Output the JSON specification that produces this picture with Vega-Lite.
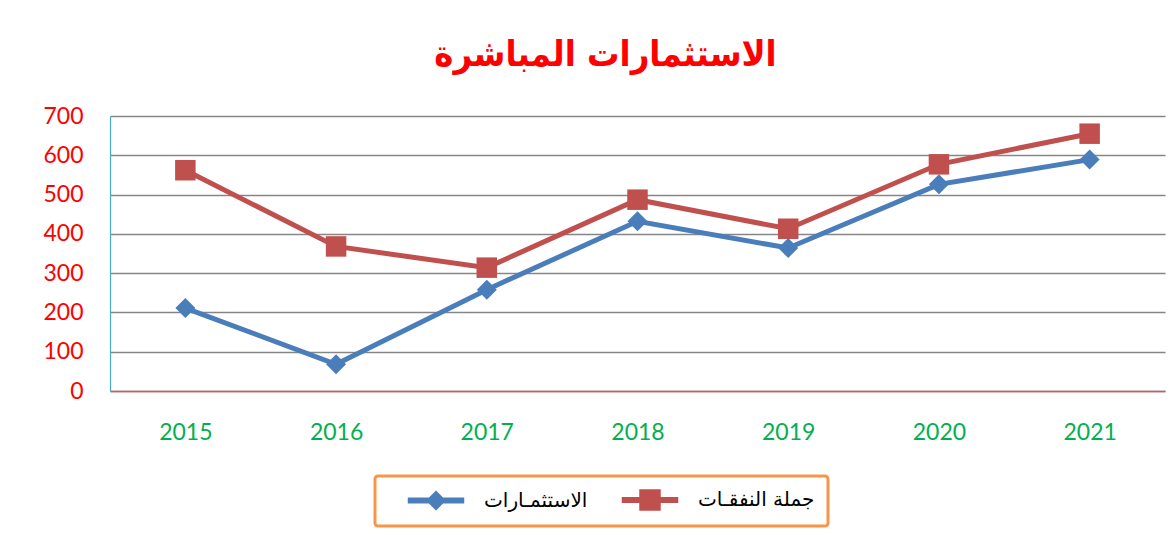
{
  "$schema": "https://vega.github.io/schema/vega-lite/v6.json",
  "width": 1055,
  "height": 275,
  "autosize": {"type": "none"},
  "padding": {"left": 110, "top": 116, "right": 10, "bottom": 149},
  "background": "white",
  "title": {
    "text": "الاستثمارات المباشرة",
    "color": "#ff0000",
    "font": "DejaVu Sans Condensed",
    "fontSize": 36,
    "fontWeight": "bold",
    "anchor": "middle",
    "dx": -32,
    "offset": 31
  },
  "config": {"view": {"stroke": null}},
  "data": {
    "values": [
      {"year": "2015", "series": "الاستثمـارات", "value": 211},
      {"year": "2016", "series": "الاستثمـارات", "value": 68},
      {"year": "2017", "series": "الاستثمـارات", "value": 258},
      {"year": "2018", "series": "الاستثمـارات", "value": 432},
      {"year": "2019", "series": "الاستثمـارات", "value": 364},
      {"year": "2020", "series": "الاستثمـارات", "value": 526},
      {"year": "2021", "series": "الاستثمـارات", "value": 589},
      {"year": "2015", "series": "جملة النفقـات", "value": 562},
      {"year": "2016", "series": "جملة النفقـات", "value": 368},
      {"year": "2017", "series": "جملة النفقـات", "value": 314},
      {"year": "2018", "series": "جملة النفقـات", "value": 487},
      {"year": "2019", "series": "جملة النفقـات", "value": 413},
      {"year": "2020", "series": "جملة النفقـات", "value": 577},
      {"year": "2021", "series": "جملة النفقـات", "value": 655}
    ]
  },
  "encoding": {
    "x": {
      "field": "year",
      "type": "ordinal",
      "scale": {"type": "point", "padding": 0.5},
      "axis": {
        "title": null,
        "labelAngle": 0,
        "ticks": false,
        "grid": false,
        "domainColor": "#d35a57",
        "domainWidth": 1.5,
        "labelColor": "#00b050",
        "labelFont": "Lato",
        "labelFontSize": 23,
        "labelPadding": 30
      }
    },
    "y": {
      "field": "value",
      "type": "quantitative",
      "scale": {"domain": [0, 700]},
      "axis": {
        "title": null,
        "values": [0, 100, 200, 300, 400, 500, 600, 700],
        "grid": true,
        "gridColor": "#868686",
        "gridWidth": 1.6,
        "ticks": false,
        "domainColor": "#4bacc6",
        "domainWidth": 1.2,
        "labelColor": "#ff0000",
        "labelFont": "Lato",
        "labelFontSize": 23,
        "labelPadding": 27
      }
    },
    "color": {
      "field": "series",
      "type": "nominal",
      "scale": {"domain": ["الاستثمـارات", "جملة النفقـات"], "range": ["#4a7ebb", "#c0504d"]},
      "legend": {
        "title": null,
        "orient": "none",
        "legendX": 265,
        "legendY": 360,
        "direction": "horizontal",
        "padding": 13,
        "strokeColor": "#f79646",
        "cornerRadius": 3,
        "fillColor": "white",
        "symbolSize": 400,
        "symbolOffset": 37,
        "labelOffset": 37,
        "columnPadding": 14,
        "labelFont": "DejaVu Sans",
        "labelFontSize": 20,
        "labelColor": "#000000",
        "encode": {
          "legend": {"update": {"strokeWidth": {"value": 3}}},
          "symbols": {
            "update": {
              "shape": {"signal": "datum.index === 0 ? 'M-2.75,-0.22H2.75V0.22H-2.75Z M0,-0.9L0.9,0L0,0.9L-0.9,0Z' : 'M-2.75,-0.22H2.75V0.22H-2.75Z M-1,-1H1V1H-1Z'"},
              "fill": {"signal": "datum.index === 0 ? '#4a7ebb' : '#c0504d'"},
              "stroke": {"value": "transparent"},
              "opacity": {"value": 1}
            }
          }
        }
      }
    }
  },
  "layer": [
    {"mark": {"type": "line", "strokeWidth": 5}},
    {
      "transform": [{"filter": "datum.series === 'الاستثمـارات'"}],
      "mark": {"type": "point", "filled": true, "opacity": 1, "shape": "diamond", "size": 400}
    },
    {
      "transform": [{"filter": "datum.series === 'جملة النفقـات'"}],
      "mark": {"type": "point", "filled": true, "opacity": 1, "shape": "square", "size": 420}
    }
  ]
}
